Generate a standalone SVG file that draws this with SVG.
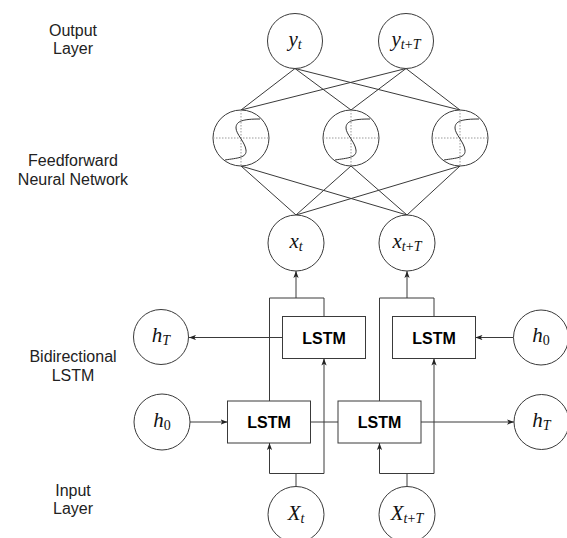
<svg xmlns="http://www.w3.org/2000/svg" width="567" height="538" viewBox="0 0 567 538">
  <style>
    .edge { fill: none; stroke: #3a3a3a; stroke-width: 1; }
    .arrow { marker-end: url(#head); }
    .circ { fill: #fff; stroke: #3a3a3a; stroke-width: 1; }
    .box { fill: #fff; stroke: #3a3a3a; stroke-width: 1; }
    .grid { fill: none; stroke: #9a9a9a; stroke-width: 1; stroke-dasharray: 1.5 1.5; }
    .curve { fill: none; stroke: #333; stroke-width: 1; }
    .lbl { font-family: "Liberation Sans", Arial, sans-serif; font-size: 16px; fill: #222; text-anchor: middle; }
    .cell { font-family: "Liberation Sans", Arial, sans-serif; font-size: 16px; font-weight: bold; fill: #000; text-anchor: middle; }
    .math { font-family: "Liberation Serif", "Times New Roman", serif; font-style: italic; font-size: 21px; fill: #111; text-anchor: middle; }
    .sub { font-size: 14px; }
    .up { font-style: normal; }
  </style>
  <defs>
    <marker id="head" viewBox="0 0 8 6" markerWidth="7" markerHeight="5.5" refX="8" refY="3" orient="auto" markerUnits="userSpaceOnUse">
      <path d="M0,0 L8,3 L0,6 L2,3 z" fill="#222"/>
    </marker>
    <!-- sigmoid activation unit -->
    <g id="sig">
      <circle class="circ" r="28"/>
      <line class="grid" x1="-28" y1="0" x2="28" y2="0"/>
      <line class="grid" x1="0" y1="-28" x2="0" y2="28"/>
      <path class="curve" d="M-16,22 C-4,20 6,20 5,12 C4,4 -5,-4 -5,-10 C-5,-17 2,-19 19,-19"/>
    </g>
  </defs>

  <rect width="567" height="538" fill="#fff"/>

  <!-- layer captions -->
  <g id="captions">
    <text class="lbl" x="73" y="36">Output</text>
    <text class="lbl" x="73" y="54">Layer</text>
    <text class="lbl" x="73" y="166">Feedforward</text>
    <text class="lbl" x="73" y="185">Neural Network</text>
    <text class="lbl" x="73" y="362">Bidirectional</text>
    <text class="lbl" x="73" y="381">LSTM</text>
    <text class="lbl" x="73" y="496">Input</text>
    <text class="lbl" x="73" y="514">Layer</text>
  </g>

  <!-- connectors -->
  <g id="connectors">
    <!-- output layer to hidden units -->
    <path class="edge" d="M295,68.5 L241,110 M295,68.5 L351,110 M295,68.5 L460,110"/>
    <path class="edge" d="M406,68.5 L241,110 M406,68.5 L351,110 M406,68.5 L460,110"/>
    <!-- hidden units to x nodes -->
    <path class="edge" d="M241,166 L296,215 M241,166 L407,215"/>
    <path class="edge" d="M351,166 L296,215 M351,166 L407,215"/>
    <path class="edge" d="M460,166 L296,215 M460,166 L407,215"/>
    <!-- LSTM outputs merged upward -->
    <path class="edge arrow" d="M296,298 V271"/>
    <path class="edge arrow" d="M407,298 V271"/>
    <path class="edge" d="M269.5,401 V298 H324 V316.5"/>
    <path class="edge" d="M379.5,401 V298 H434 V316.5"/>
    <!-- inputs split to both directions -->
    <path class="edge arrow" d="M296,486.5 V473.5 H269.5 V443"/>
    <path class="edge arrow" d="M296,473.5 H324 V358.5"/>
    <path class="edge arrow" d="M407,486.5 V473.5 H379.5 V443"/>
    <path class="edge arrow" d="M407,473.5 H434 V358.5"/>
    <!-- recurrent states -->
    <path class="edge arrow" d="M282.5,337.5 H189"/>
    <path class="edge arrow" d="M190,422 H227.5"/>
    <path class="edge" d="M311,422 H338"/>
    <path class="edge arrow" d="M421,422 H514"/>
    <path class="edge arrow" d="M513.5,337.5 H475.5"/>
  </g>

  <!-- output layer -->
  <g id="y_t">
    <circle class="circ" cx="295" cy="41" r="27.5"/>
    <text class="math" x="295" y="45.5">y<tspan class="sub" dy="3">t</tspan></text>
  </g>
  <g id="y_tT">
    <circle class="circ" cx="406" cy="41" r="27.5"/>
    <text class="math" x="406" y="45.5">y<tspan class="sub" dy="3">t<tspan class="up">+</tspan>T</tspan></text>
  </g>

  <!-- feedforward hidden units -->
  <g id="ff1"><use href="#sig" x="241" y="138"/></g>
  <g id="ff2"><use href="#sig" x="351" y="138"/></g>
  <g id="ff3"><use href="#sig" x="460" y="138"/></g>

  <!-- LSTM outputs -->
  <g id="x_t">
    <circle class="circ" cx="296" cy="243" r="28"/>
    <text class="math" x="296" y="247.5">x<tspan class="sub" dy="3">t</tspan></text>
  </g>
  <g id="x_tT">
    <circle class="circ" cx="407" cy="243" r="28"/>
    <text class="math" x="407" y="247.5">x<tspan class="sub" dy="3">t<tspan class="up">+</tspan>T</tspan></text>
  </g>

  <!-- backward LSTM cells -->
  <g id="lstm_b1">
    <rect class="box" x="282.5" y="316.5" width="83" height="42"/>
    <text class="cell" x="324" y="343.5">LSTM</text>
  </g>
  <g id="lstm_b2">
    <rect class="box" x="392.5" y="316.5" width="83" height="42"/>
    <text class="cell" x="434" y="343.5">LSTM</text>
  </g>

  <!-- forward LSTM cells -->
  <g id="lstm_f1">
    <rect class="box" x="227.5" y="401" width="83" height="42"/>
    <text class="cell" x="269" y="428">LSTM</text>
  </g>
  <g id="lstm_f2">
    <rect class="box" x="338" y="401" width="83" height="42"/>
    <text class="cell" x="379.5" y="428">LSTM</text>
  </g>

  <!-- hidden states -->
  <g id="hT_left">
    <circle class="circ" cx="161" cy="337" r="27.5"/>
    <text class="math" x="161" y="341.5">h<tspan class="sub" dy="3">T</tspan></text>
  </g>
  <g id="h0_left">
    <circle class="circ" cx="162" cy="422" r="28"/>
    <text class="math" x="162" y="426.5">h<tspan class="sub up" dy="3">0</tspan></text>
  </g>
  <g id="h0_right">
    <circle class="circ" cx="541" cy="337.5" r="27.5"/>
    <text class="math" x="541" y="342">h<tspan class="sub up" dy="3">0</tspan></text>
  </g>
  <g id="hT_right">
    <circle class="circ" cx="541.5" cy="422" r="27.5"/>
    <text class="math" x="541.5" y="426.5">h<tspan class="sub" dy="3">T</tspan></text>
  </g>

  <!-- input layer -->
  <g id="X_t">
    <circle class="circ" cx="296" cy="514.5" r="28"/>
    <text class="math" x="296" y="519.5">X<tspan class="sub" dy="3">t</tspan></text>
  </g>
  <g id="X_tT">
    <circle class="circ" cx="407" cy="514.5" r="28"/>
    <text class="math" x="407" y="519.5">X<tspan class="sub" dy="3">t<tspan class="up">+</tspan>T</tspan></text>
  </g>
</svg>
